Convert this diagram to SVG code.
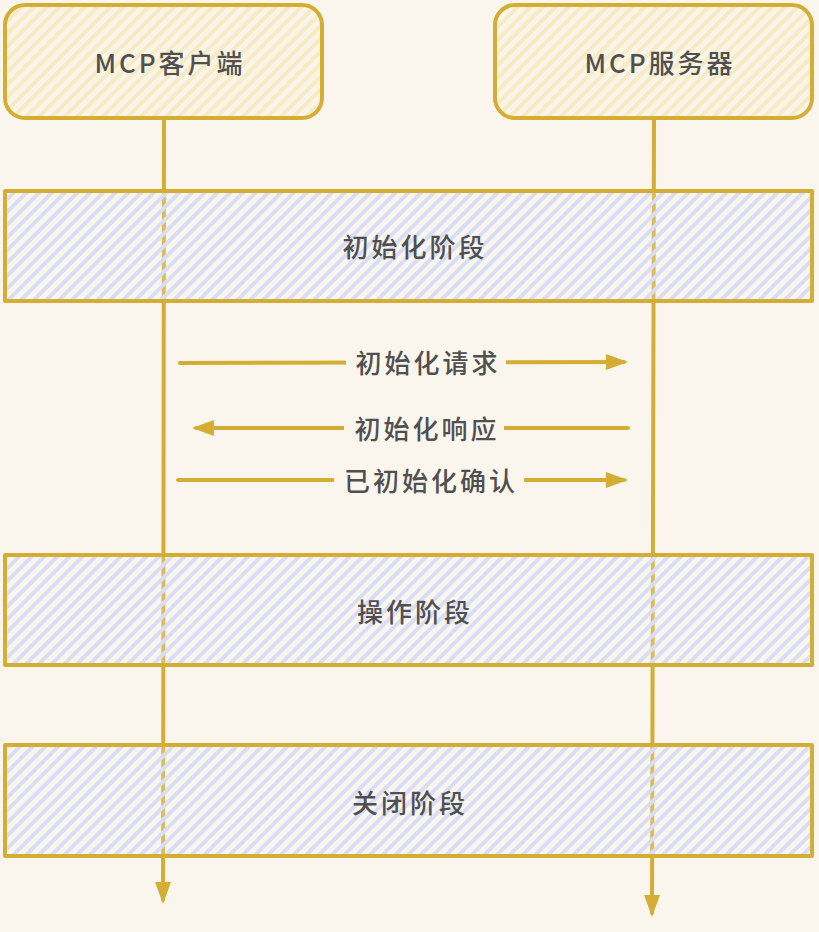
<svg xmlns="http://www.w3.org/2000/svg" width="819" height="932" viewBox="0 0 819 932">
<defs>
<pattern id="hy" patternUnits="userSpaceOnUse" width="9" height="9" patternTransform="rotate(45)">
<rect width="9" height="9" fill="#faf5e8"/>
<rect width="4" height="9" fill="#f6ebc4"/>
</pattern>
<pattern id="hb" patternUnits="userSpaceOnUse" width="9" height="9" patternTransform="rotate(45)">
<rect width="9" height="9" fill="#f8f4ec" fill-opacity="0.2"/>
<rect width="4" height="9" fill="#d9def7"/>
</pattern>
<marker id="ah" markerWidth="8" markerHeight="8" refX="4.5" refY="4" orient="auto" markerUnits="strokeWidth">
<path d="M0,2 L5.5,4 L0,6 z" fill="#d4ae34"/>
</marker>
</defs>
<style>
.s{stroke:#d4ae34;stroke-width:4;stroke-linecap:round;stroke-linejoin:round}
.t{font-family:"Noto Sans CJK SC","Noto Sans",sans-serif;font-size:26px;font-weight:500;fill:#505050;text-anchor:middle;dominant-baseline:central;letter-spacing:3px}
.l{fill:none;stroke:#d4ae34;stroke-width:4;stroke-linecap:round}
</style>
<rect width="819" height="932" fill="#faf6ee"/>
<g id="lifelines">
<line class="l" x1="164" y1="118" x2="163" y2="900" marker-end="url(#ah)"/>
<line class="l" x1="654" y1="118" x2="652" y2="913" marker-end="url(#ah)"/>
</g>
<g id="client">
<rect class="s" x="5" y="5" width="317" height="113" rx="20" fill="url(#hy)"/>
<text class="t" x="170" y="61">MCP客户端</text>
</g>
<g id="server">
<rect class="s" x="495" y="5" width="317" height="113" rx="20" fill="url(#hy)"/>
<text class="t" x="660" y="61">MCP服务器</text>
</g>
<g id="phase-init">
<rect class="s" x="5" y="191" width="807" height="110" fill="url(#hb)"/>
<text class="t" x="415" y="245">初始化阶段</text>
</g>
<g id="phase-op">
<rect class="s" x="5" y="555" width="807" height="110" fill="url(#hb)"/>
<text class="t" x="415" y="610">操作阶段</text>
</g>
<g id="phase-close">
<rect class="s" x="5" y="745" width="807" height="111" fill="url(#hb)"/>
<text class="t" x="410" y="801">关闭阶段</text>
</g>
<g id="connectors">
<line class="l" x1="180" y1="363" x2="624" y2="362" marker-end="url(#ah)"/>
<line class="l" x1="628" y1="428" x2="196" y2="428" marker-end="url(#ah)"/>
<line class="l" x1="178" y1="480" x2="624" y2="480" marker-end="url(#ah)"/>
</g>
<g id="labels">
<rect x="346" y="346" width="160" height="32" fill="#faf6ee"/>
<text class="t" x="428" y="361">初始化请求</text>
<rect x="344" y="412" width="160" height="32" fill="#faf6ee"/>
<text class="t" x="427" y="427">初始化响应</text>
<rect x="334" y="464" width="190" height="32" fill="#faf6ee"/>
<text class="t" x="431" y="479">已初始化确认</text>
</g>
</svg>
